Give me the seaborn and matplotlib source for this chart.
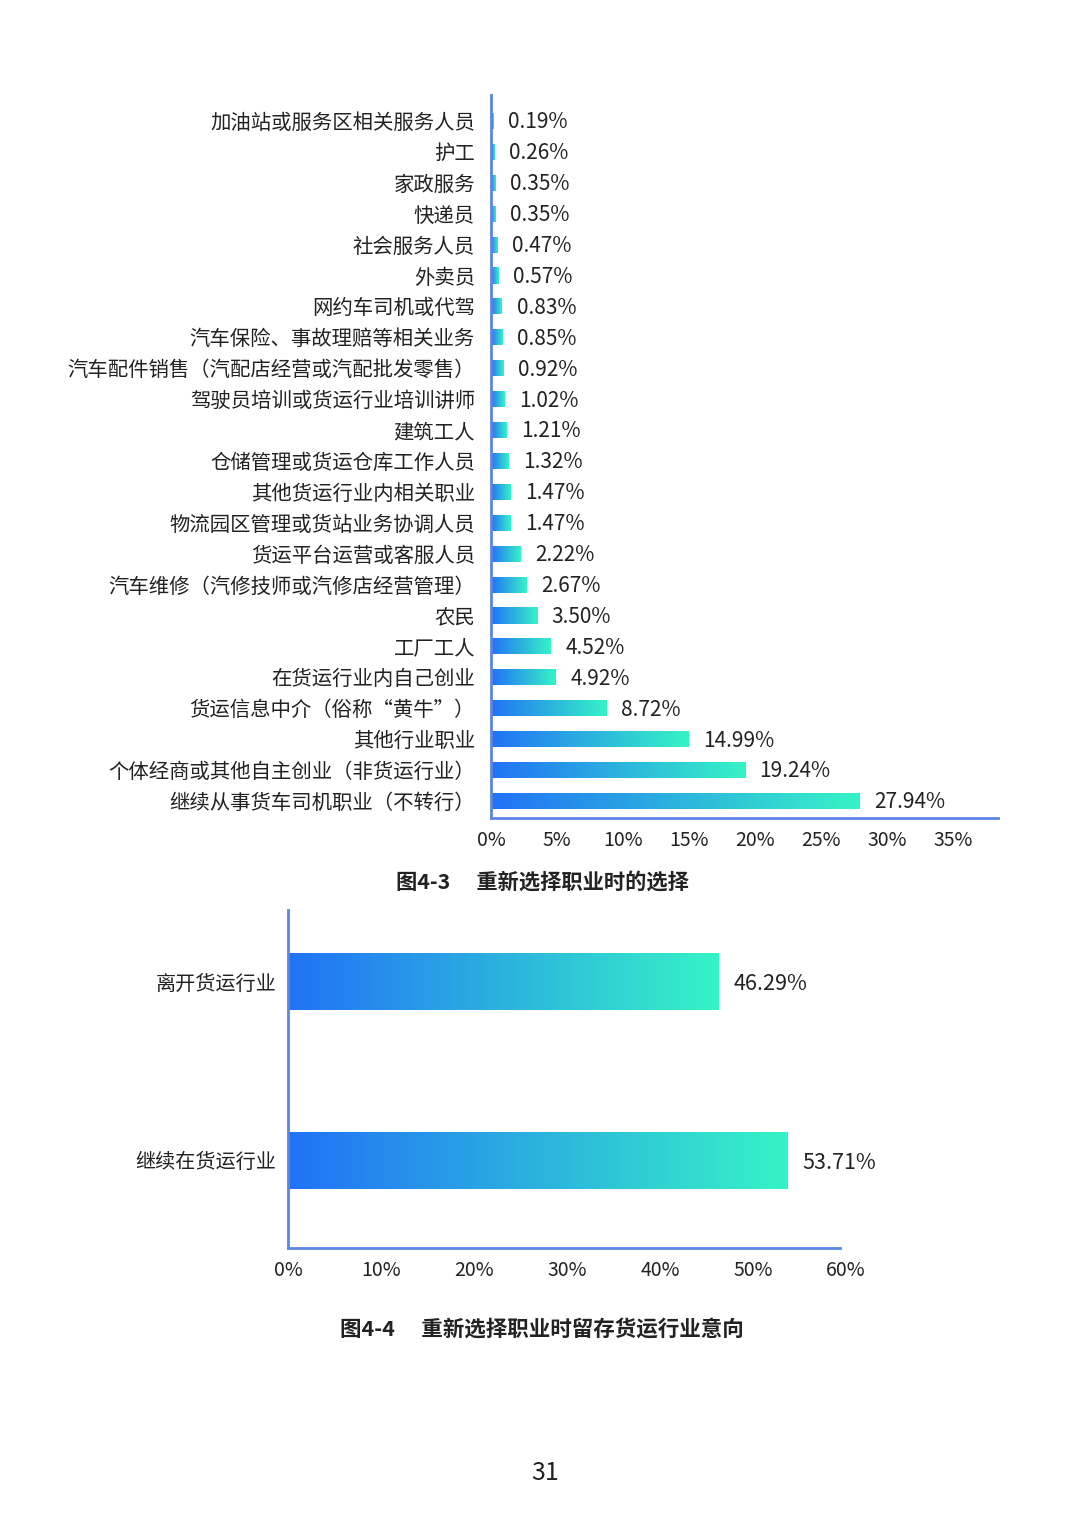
import numpy as np
import pandas as pd
import matplotlib
matplotlib.use("Agg")
import matplotlib.pyplot as plt
from matplotlib.colors import LinearSegmentedColormap
import seaborn as sns

# data: career choices when re-selecting a job (fig 4-3)
jobs = [
    "加油站或服务区相关服务人员", "护工", "家政服务", "快递员", "社会服务人员",
    "外卖员", "网约车司机或代驾", "汽车保险、事故理赔等相关业务",
    "汽车配件销售（汽配店经营或汽配批发零售）", "驾驶员培训或货运行业培训讲师",
    "建筑工人", "仓储管理或货运仓库工作人员", "其他货运行业内相关职业",
    "物流园区管理或货站业务协调人员", "货运平台运营或客服人员",
    "汽车维修（汽修技师或汽修店经营管理）", "农民", "工厂工人",
    "在货运行业内自己创业", "货运信息中介（俗称“黄牛”）", "其他行业职业",
    "个体经商或其他自主创业（非货运行业）", "继续从事货车司机职业（不转行）",
]
job_pct = [0.19, 0.26, 0.35, 0.35, 0.47, 0.57, 0.83, 0.85, 0.92, 1.02, 1.21,
           1.32, 1.47, 1.47, 2.22, 2.67, 3.50, 4.52, 4.92, 8.72, 14.99, 19.24, 27.94]
top_ticks = [0, 5, 10, 15, 20, 25, 30, 35]

# data: stay in freight industry (fig 4-4)
stay = ["离开货运行业", "继续在货运行业"]
stay_pct = [46.29, 53.71]
bottom_ticks = [0, 10, 20, 30, 40, 50, 60]

sns.set_style("white")
plt.rcParams["font.family"] = ["Noto Sans CJK SC", "DejaVu Sans"]

TEXT = "#222222"
AXIS = "#5B86E5"
grad = LinearSegmentedColormap.from_list("grad", ["#2172F6", "#36F3C6"])
grad_img = np.linspace(0, 1, 256).reshape(1, -1)


def gradient_bars(ax):
    # repaint each seaborn bar with a left-to-right gradient
    for p in ax.patches:
        x0, y0 = p.get_x(), p.get_y()
        w, h = p.get_width(), p.get_height()
        im = ax.imshow(grad_img, cmap=grad, aspect="auto",
                       extent=(x0, x0 + w, y0 + h, y0), zorder=2,
                       interpolation="bicubic")
        im.set_clip_path(p)
        p.set_facecolor("none")
        p.set_edgecolor("none")


def style_axes(ax, fs_y, pad_y):
    sns.despine(ax=ax, top=True, right=True)
    for s in ["left", "bottom"]:
        ax.spines[s].set_color(AXIS)
        ax.spines[s].set_linewidth(2.0)
    ax.tick_params(axis="both", length=0, colors=TEXT)
    ax.tick_params(axis="y", labelsize=fs_y, pad=pad_y)
    ax.tick_params(axis="x", labelsize=14, pad=9)
    ax.set_xlabel("")
    ax.set_ylabel("")
    ax.grid(False)


fig = plt.figure(figsize=(10.8, 15.27), dpi=100)

# ---- top chart
ax1 = fig.add_axes([491 / 1080, 1 - 818 / 1527, (998 - 491) / 1080, (818 - 95) / 1527])
df1 = pd.DataFrame({"job": jobs, "pct": job_pct})
sns.barplot(data=df1, x="pct", y="job", orient="h", ax=ax1, width=0.52)
gradient_bars(ax1)
ax1.set_xlim(0, 38.4)
ax1.set_ylim(len(jobs) - 1 + 0.55, -0.84)
ax1.set_xticks(top_ticks)
ax1.set_xticklabels([f"{t}%" for t in top_ticks])
style_axes(ax1, 14.7, 11.5)
for i, v in enumerate(job_pct):
    ax1.annotate(f"{v:.2f}%", (v, i), xytext=(10.5, -1), textcoords="offset points",
                 va="center", ha="left", fontsize=15, color=TEXT)

fig.text(542 / 1080, 1 - 882 / 1527, "图4-3　 重新选择职业时的选择", ha="center",
         va="center", fontsize=15.3, fontweight="bold", color=TEXT)

# ---- bottom chart
ax2 = fig.add_axes([288 / 1080, 1 - 1248 / 1527, (846 - 288) / 1080, (1248 - 910) / 1527])
df2 = pd.DataFrame({"cat": stay, "pct": stay_pct})
sns.barplot(data=df2, x="pct", y="cat", orient="h", ax=ax2, width=0.32)
gradient_bars(ax2)
ax2.set_xlim(0, 60)
ax2.set_ylim(1.49, -0.40)
ax2.set_xticks(bottom_ticks)
ax2.set_xticklabels([f"{t}%" for t in bottom_ticks])
style_axes(ax2, 14.5, 8.5)
ax2.spines["bottom"].set_bounds(0, 59.4)
for i, v in enumerate(stay_pct):
    ax2.annotate(f"{v:.2f}%", (v, i), xytext=(11, -2), textcoords="offset points",
                 va="center", ha="left", fontsize=15.5, color=TEXT)

fig.text(542 / 1080, 1 - 1329 / 1527, "图4-4　 重新选择职业时留存货运行业意向", ha="center",
         va="center", fontsize=15.5, fontweight="bold", color=TEXT)

fig.text(545 / 1080, 1 - 1473 / 1527, "31", ha="center", va="center",
         fontsize=18, color=TEXT)

fig.savefig("out.png", dpi=100, facecolor="white")
